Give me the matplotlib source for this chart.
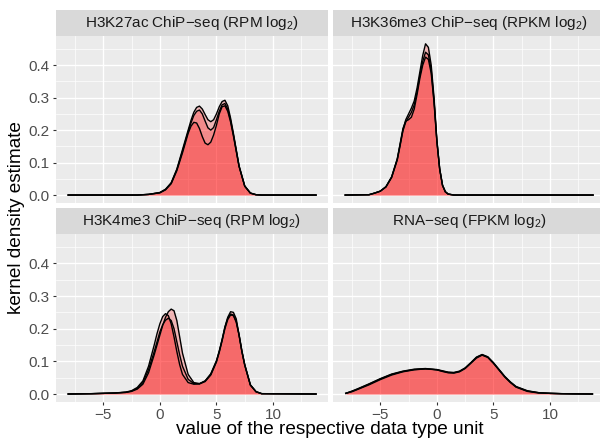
import matplotlib as mpl
import matplotlib.pyplot as plt
from matplotlib.ticker import MultipleLocator

mpl.rcParams['font.family'] = ['Liberation Sans', 'DejaVu Sans']
mpl.rcParams['mathtext.fontset'] = 'custom'
mpl.rcParams['mathtext.rm'] = 'Liberation Sans'

titles = ['H3K27ac ChiP\u2212seq (RPM log$_{\\mathregular{2}}$)',
          'H3K36me3 ChiP\u2212seq (RPKM log$_{\\mathregular{2}}$)',
          'H3K4me3 ChiP\u2212seq (RPM log$_{\\mathregular{2}}$)',
          'RNA\u2212seq (FPKM log$_{\\mathregular{2}}$)']

# kernel density estimates, three replicates per data type
k27ac_x = [-8.1, -2, -1, 0, 0.5, 1, 1.5, 2, 2.5, 2.75, 3, 3.25, 3.5, 3.75, 4, 4.25, 4.5,
           4.75, 5, 5.25, 5.5, 5.75, 6, 6.25, 6.5, 7, 7.5, 8, 8.5, 9, 13.8]
k27ac_a = [0, 0, 0.002, 0.008, 0.018, 0.038, 0.08, 0.14, 0.2, 0.23, 0.255, 0.27, 0.274, 0.265,
           0.248, 0.232, 0.226, 0.232, 0.25, 0.272, 0.288, 0.292, 0.275, 0.237, 0.19, 0.09,
           0.028, 0.006, 0.001, 0, 0]
k27ac_b = [0, 0, 0.002, 0.007, 0.016, 0.035, 0.075, 0.13, 0.19, 0.212, 0.224, 0.222, 0.205, 0.18,
           0.16, 0.155, 0.163, 0.185, 0.215, 0.25, 0.272, 0.275, 0.258, 0.225, 0.182, 0.088,
           0.027, 0.006, 0.001, 0, 0]
k27ac_c = [0, 0, 0.002, 0.007, 0.017, 0.036, 0.078, 0.135, 0.195, 0.222, 0.245, 0.258, 0.262, 0.25,
           0.228, 0.207, 0.2, 0.208, 0.232, 0.258, 0.278, 0.282, 0.265, 0.23, 0.186, 0.089,
           0.028, 0.006, 0.001, 0, 0]

k36me3_x = [-8.1, -6, -5.5, -5, -4.5, -4, -3.5, -3.25, -3, -2.75, -2.5, -2.25, -2, -1.75, -1.5,
            -1.25, -1, -0.75, -0.5, -0.25, 0, 0.25, 0.5, 0.75, 1, 1.5, 13.8]
k36me3_a = [0, 0.001, 0.006, 0.012, 0.025, 0.055, 0.11, 0.155, 0.2, 0.232, 0.25, 0.268, 0.29,
            0.33, 0.38, 0.43, 0.466, 0.455, 0.4, 0.3, 0.17, 0.08, 0.03, 0.01, 0.003, 0, 0]
k36me3_b = [0, 0.001, 0.006, 0.012, 0.026, 0.056, 0.112, 0.158, 0.205, 0.228, 0.232, 0.24, 0.265,
            0.31, 0.36, 0.4, 0.425, 0.418, 0.375, 0.285, 0.165, 0.08, 0.03, 0.01, 0.003, 0, 0]
k36me3_c = [0, 0.001, 0.006, 0.012, 0.025, 0.054, 0.108, 0.152, 0.198, 0.225, 0.24, 0.255, 0.278,
            0.318, 0.368, 0.412, 0.44, 0.432, 0.385, 0.29, 0.167, 0.08, 0.03, 0.01, 0.003, 0, 0]

k4me3_x = [-8.1, -6, -5, -4, -3, -2.5, -2, -1.5, -1, -0.5, -0.25, 0, 0.25, 0.5, 0.75, 1, 1.25,
           1.5, 1.75, 2, 2.5, 3, 3.5, 4, 4.5, 5, 5.25, 5.5, 5.75, 6, 6.25, 6.5, 6.75, 7, 7.25,
           7.5, 8, 8.5, 9, 13.8]
k4me3_a = [0, 0.001, 0.002, 0.003, 0.005, 0.008, 0.015, 0.03, 0.065, 0.12, 0.15, 0.18, 0.21,
           0.235, 0.252, 0.26, 0.255, 0.225, 0.175, 0.125, 0.06, 0.035, 0.032, 0.04, 0.06, 0.1,
           0.13, 0.165, 0.205, 0.235, 0.252, 0.25, 0.23, 0.18, 0.13, 0.09, 0.028, 0.007, 0.001, 0]
k4me3_b = [0, 0.001, 0.002, 0.003, 0.006, 0.01, 0.02, 0.04, 0.085, 0.15, 0.185, 0.215, 0.237,
           0.246, 0.24, 0.215, 0.175, 0.13, 0.09, 0.06, 0.035, 0.03, 0.031, 0.04, 0.062, 0.102,
           0.132, 0.167, 0.205, 0.232, 0.245, 0.242, 0.222, 0.182, 0.132, 0.09, 0.028, 0.007,
           0.001, 0]
k4me3_c = [0, 0.001, 0.002, 0.003, 0.005, 0.009, 0.017, 0.035, 0.075, 0.13, 0.16, 0.19, 0.212,
           0.226, 0.232, 0.225, 0.2, 0.16, 0.12, 0.085, 0.045, 0.032, 0.031, 0.038, 0.058, 0.098,
           0.128, 0.163, 0.2, 0.228, 0.242, 0.24, 0.22, 0.18, 0.13, 0.088, 0.027, 0.007, 0.001, 0]

rna_x = [-8.05, -7.5, -7, -6, -5, -4, -3, -2, -1, 0, 0.5, 1, 1.5, 2, 2.5, 3, 3.5, 4, 4.5, 5,
         5.5, 6, 6.5, 7, 8, 9, 10, 11, 12, 13.75]
rna_a = [0.002, 0.008, 0.015, 0.03, 0.046, 0.06, 0.069, 0.075, 0.077, 0.074, 0.07, 0.066, 0.065,
         0.069, 0.079, 0.095, 0.112, 0.12, 0.113, 0.095, 0.074, 0.053, 0.036, 0.022, 0.009,
         0.004, 0.002, 0.001, 0.0005, 0]
rna_b = [0.002, 0.007, 0.014, 0.028, 0.044, 0.058, 0.068, 0.074, 0.077, 0.075, 0.071, 0.067,
         0.066, 0.07, 0.08, 0.096, 0.113, 0.121, 0.114, 0.096, 0.075, 0.054, 0.037, 0.023, 0.01,
         0.004, 0.002, 0.001, 0.0005, 0]
rna_c = [0.002, 0.009, 0.016, 0.031, 0.047, 0.061, 0.07, 0.076, 0.078, 0.074, 0.069, 0.065,
         0.064, 0.068, 0.078, 0.094, 0.11, 0.119, 0.112, 0.094, 0.073, 0.052, 0.035, 0.021,
         0.008, 0.003, 0.002, 0.001, 0.0005, 0]

panels = [
    (k27ac_x, [k27ac_a, k27ac_b, k27ac_c]),
    (k36me3_x, [k36me3_a, k36me3_b, k36me3_c]),
    (k4me3_x, [k4me3_a, k4me3_b, k4me3_c]),
    (rna_x, [rna_a, rna_b, rna_c]),
]

W, H = 600, 440
fig = plt.figure(figsize=(6, 4.4), dpi=100)

# panel boxes in pixels: left, top, right, bottom
boxes = [(56, 36, 328, 203), (333, 36, 605, 203),
         (56, 234, 328, 402), (333, 234, 605, 402)]
strip_h = 26

for i, (box, title, (xs, curves)) in enumerate(zip(boxes, titles, panels)):
    l, t, r, b = box
    ax = fig.add_axes([l / W, 1 - b / H, (r - l) / W, (b - t) / H])
    ax.set_facecolor('#EBEBEB')
    for s in ax.spines.values():
        s.set_visible(False)
    ax.set_xlim(-9.18, 14.86)
    ax.set_ylim(-0.0245, 0.49)
    ax.xaxis.set_major_locator(MultipleLocator(5))
    ax.xaxis.set_minor_locator(MultipleLocator(2.5))
    ax.yaxis.set_major_locator(MultipleLocator(0.1))
    ax.yaxis.set_minor_locator(MultipleLocator(0.05))
    ax.grid(which='major', color='white', lw=1.0)
    ax.grid(which='minor', color='white', lw=0.5)
    ax.set_axisbelow(True)
    ax.tick_params(which='minor', length=0)
    ax.tick_params(which='major', length=2.5, width=0.8, color='#333333',
                   labelcolor='#4D4D4D', labelsize=11, pad=2)
    ax.yaxis.set_major_formatter(mpl.ticker.FormatStrFormatter('%.1f'))
    if i in (0, 1):
        ax.tick_params(axis='x', labelbottom=False, length=0)
    if i in (1, 3):
        ax.tick_params(axis='y', labelleft=False, length=0)

    for ys in curves:
        ax.fill_between(xs, ys, 0, color='red', alpha=0.23, lw=0)
    for ys in curves:
        ax.plot(xs, ys, color='black', lw=1.0)

    # facet strip
    sax = fig.add_axes([l / W, 1 - t / H, (r - l) / W, strip_h / H])
    sax.set_facecolor('#D9D9D9')
    sax.set_xticks([])
    sax.set_yticks([])
    for s in sax.spines.values():
        s.set_visible(False)
    sax.text(0.5, 0.5, title, ha='center', va='center', fontsize=11, color='#1A1A1A',
             transform=sax.transAxes)

fig.text(330 / W, 1 - 434 / H, 'value of the respective data type unit', ha='center',
         va='baseline', fontsize=13.7, color='black')
fig.text(17 / W, 1 - 218 / H, 'kernel density estimate', ha='center', va='center',
         rotation=90, fontsize=13.7, color='black')

fig.savefig('out.png', dpi=100)
